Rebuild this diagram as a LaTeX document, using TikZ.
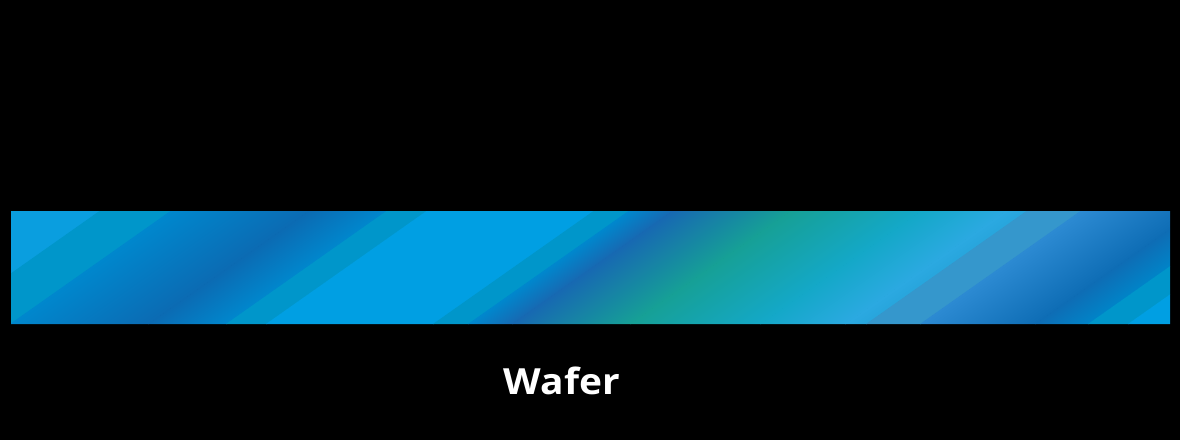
\documentclass[tikz,border=0pt]{standalone}
\usepackage{fontspec}
\setmainfont{Open Sans}
\usepackage{xcolor}
\usepackage{tikz}
\usetikzlibrary{positioning}

\definecolor{wlight}{HTML}{009FE3}
\definecolor{wcorner}{HTML}{0A9EDF}
\definecolor{wteal}{HTML}{0096CA}
\definecolor{wmid}{HTML}{0087CD}
\definecolor{wdark}{HTML}{0B6BB3}
\definecolor{wdarkb}{HTML}{1769B2}
\definecolor{wgreen}{HTML}{16A096}
\definecolor{wcyan}{HTML}{14A8C8}
\definecolor{wsky}{HTML}{2BA9E1}
\definecolor{wskyb}{HTML}{27A5DC}
\definecolor{wsteel}{HTML}{3597CC}
\definecolor{wsteelb}{HTML}{2C8AD2}
\definecolor{wdarkc}{HTML}{0E6DB5}
\definecolor{wmidb}{HTML}{0084C8}

\tikzset{
  caption/.style={text=white, font=\bfseries\fontsize{20.5}{24}\selectfont, xscale=1.08}
}

\begin{document}
\begin{tikzpicture}[x=0.02cm, y=0.02cm]
    % background and page size
    \fill[black] (0,-116) rectangle (1180,324);
    % wafer bar, bands slanted along the stripes
    \begin{scope}
        \clip (11,0) rectangle (1170,113);
        \begin{scope}[transform canvas={xslant=1.42}]
            \foreach \ua/\ub/\ca/\cb in {
                -170/-61/wcorner/wcorner, -61/10/wteal/wteal,
                10/148/wmid/wdark, 148/226/wdark/wmid,
                226/266/wteal/wteal, 266/433/wlight/wlight,
                433/468/wteal/wteal, 468/512/wmid/wdarkb,
                512/630/wdarkb/wgreen, 630/760/wgreen/wcyan,
                760/845/wcyan/wsky, 845/866/wsky/wskyb,
                866/920/wsteel/wsteel, 920/1035/wsteelb/wdarkc,
                1035/1088/wdarkc/wmidb, 1088/1128/wteal/wteal,
                1128/1185/wlight/wlight}
                \shade[left color=\ca, right color=\cb] (\ua,0) rectangle (\ub+1,113);
        \end{scope}
    \end{scope}
    \node[caption, anchor=base] (waferlabel) at (562,-70) {Wafer};
\end{tikzpicture}
\end{document}
